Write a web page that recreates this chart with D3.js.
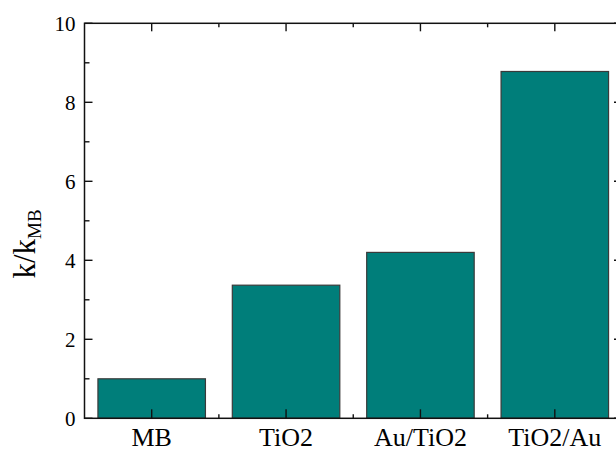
<!DOCTYPE html>
<html>
<head>
<meta charset="utf-8">
<script src="https://cdn.jsdelivr.net/npm/d3@7"></script>
<style>
  html, body { margin: 0; padding: 0; background: #fff; }
  svg { display: block; }
  text { font-family: "Liberation Serif", "Times New Roman", serif; fill: #000; }
</style>
</head>
<body>
<svg id="chart" width="616" height="452"></svg>
<script>
// Relative rate constants, normalised to MB
const categories = ["MB", "TiO2", "Au/TiO2", "TiO2/Au"];
const ratios = [1.0, 3.37, 4.2, 8.78];
const yMajorTicks = [0, 2, 4, 6, 8, 10];
const yMinorTicks = [1, 3, 5, 7, 9];

const svg = d3.select("#chart");
const plotLeft = 84.5, plotRight = 622, plotTop = 23.3, plotBottom = 418.3;

const x = d3.scaleBand()
  .domain(categories)
  .range([plotLeft, plotRight])
  .paddingInner(0.2)
  .paddingOuter(0.1);

const y = d3.scaleLinear().domain([0, 10]).range([plotBottom, plotTop]);

const step = x.step();
const centers = categories.map(c => x(c) + x.bandwidth() / 2);
const xMinor = centers.slice(0, -1).map(c => c + step / 2);

// Bars
svg.append("g")
  .selectAll("rect")
  .data(categories)
  .join("rect")
  .attr("x", d => x(d))
  .attr("y", (d, i) => y(ratios[i]))
  .attr("width", x.bandwidth())
  .attr("height", (d, i) => y(0) - y(ratios[i]))
  .attr("fill", "#007e7a")
  .attr("stroke", "#3a3a3a")
  .attr("stroke-width", 1.2);

const axisColor = "#111";
const lw = 1.5;

// Frame
svg.append("rect")
  .attr("x", plotLeft).attr("y", plotTop)
  .attr("width", plotRight - plotLeft).attr("height", plotBottom - plotTop)
  .attr("fill", "none").attr("stroke", axisColor).attr("stroke-width", lw);

const ticks = svg.append("g").attr("stroke", axisColor).attr("stroke-width", 1.4);

// Y ticks, inward on both sides
yMajorTicks.forEach(v => {
  ticks.append("line").attr("x1", plotLeft).attr("x2", plotLeft + 8).attr("y1", y(v)).attr("y2", y(v));
  ticks.append("line").attr("x1", plotRight).attr("x2", plotRight - 8).attr("y1", y(v)).attr("y2", y(v));
});
yMinorTicks.forEach(v => {
  ticks.append("line").attr("x1", plotLeft).attr("x2", plotLeft + 5).attr("y1", y(v)).attr("y2", y(v));
  ticks.append("line").attr("x1", plotRight).attr("x2", plotRight - 5).attr("y1", y(v)).attr("y2", y(v));
});

// X ticks, inward on bottom and top
centers.forEach(c => {
  ticks.append("line").attr("x1", c).attr("x2", c).attr("y1", plotBottom).attr("y2", plotBottom - 9);
  ticks.append("line").attr("x1", c).attr("x2", c).attr("y1", plotTop).attr("y2", plotTop + 8);
});
xMinor.forEach(c => {
  ticks.append("line").attr("x1", c).attr("x2", c).attr("y1", plotBottom).attr("y2", plotBottom - 4);
  ticks.append("line").attr("x1", c).attr("x2", c).attr("y1", plotTop).attr("y2", plotTop + 4);
});

// Y tick labels
svg.append("g")
  .selectAll("text")
  .data(yMajorTicks)
  .join("text")
  .attr("x", plotLeft - 9)
  .attr("y", d => y(d))
  .attr("dy", "0.35em")
  .attr("text-anchor", "end")
  .attr("font-size", 21)
  .text(d => d);

// Category labels
svg.append("g")
  .selectAll("text")
  .data(categories)
  .join("text")
  .attr("x", (d, i) => centers[i])
  .attr("y", 446)
  .attr("text-anchor", "middle")
  .attr("font-size", 26)
  .text(d => d);

// Y axis title: k/k_MB
const title = svg.append("text")
  .attr("transform", "translate(35,244) rotate(-90)")
  .attr("text-anchor", "middle")
  .attr("font-size", 31);
title.append("tspan").text("k/k");
title.append("tspan").attr("font-size", 19).attr("dy", 6).text("MB");
</script>
</body>
</html>
